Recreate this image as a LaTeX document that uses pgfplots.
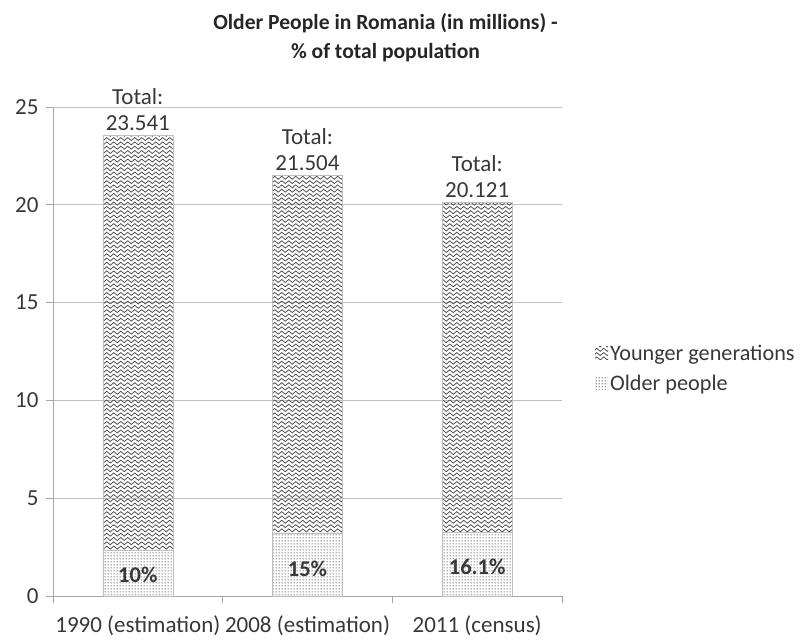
\documentclass[border=0pt]{standalone}
\usepackage{pgfplots}
\pgfplotsset{compat=1.18}
\usepackage{fontspec}
\setmainfont{Carlito}
\usetikzlibrary{patterns}
\definecolor{txt}{HTML}{383838}
\definecolor{gridc}{HTML}{C0C0C0}
\definecolor{axc}{HTML}{A6A6A6}
\pgfdeclarepatternformonly{wave}{\pgfpoint{-0.5pt}{-0.5pt}}{\pgfpoint{7.5pt}{4.8pt}}{\pgfpoint{7pt}{4.3pt}}{
  \pgfsetlinewidth{0.75pt}
  \pgfpathmoveto{\pgfpoint{0pt}{2.1pt}}
  \pgfpathcurveto{\pgfpoint{1.2pt}{4.1pt}}{\pgfpoint{2.3pt}{4.1pt}}{\pgfpoint{3.5pt}{2.1pt}}
  \pgfpathcurveto{\pgfpoint{4.7pt}{0.1pt}}{\pgfpoint{5.8pt}{0.1pt}}{\pgfpoint{7pt}{2.1pt}}
  \pgfusepath{stroke}
}
\pgfdeclarepatternformonly{finedots}{\pgfpointorigin}{\pgfpoint{2.6pt}{2.6pt}}{\pgfpoint{2.6pt}{2.6pt}}{
  \pgfpathcircle{\pgfpoint{1.3pt}{1.3pt}}{0.68pt}
  \pgfusepath{fill}
}
\pgfplotstableread{
x older younger
0 2.354 21.187
1 3.226 18.278
2 3.239 16.882
}\data
\begin{document}
\begin{tikzpicture}
\path[use as bounding box] (-53pt,-44pt) rectangle (749pt,596pt);
\begin{axis}[
  at={(0pt,0pt)}, anchor=south west,
  scale only axis, width=509pt, height=489pt,
  clip=false,
  ybar stacked, bar width=70pt,
  xmin=-0.5, xmax=2.5, ymin=0, ymax=25,
  ytick={0,5,...,25},
  xtick={-0.5,0.5,1.5,2.5},
  x tick label as interval,
  xticklabels={1990 (estimation),2008 (estimation),2011 (census)},
  ymajorgrids, grid style={gridc, line width=0.8pt},
  axis line style={axc, line width=0.8pt},
  axis x line*=bottom, axis y line*=left,
  tick style={axc, line width=0.8pt},
  tick align=outside, major tick length=7pt,
  ticklabel style={font=\fontsize{23}{26}\selectfont, text=txt},
  /pgf/number format/assume math mode=true,
  x tick label style={yshift=-9pt},
  y tick label style={xshift=-4pt},
  title={\textbf{Older People in Romania (in millions) -}\\\textbf{\% of total population}},
  title style={font=\fontsize{21.6}{29}\selectfont, text=black!85, align=center, yshift=36pt, xshift=78pt},
  legend style={at={(1.0,0.465)}, anchor=west, draw=none, fill=none, font=\fontsize{22.2}{26}\selectfont, text=txt, row sep=9pt, xshift=33pt, inner xsep=0pt},
  legend cell align=left,
  reverse legend,
  legend image code/.code={\path[#1, draw=none] (0pt,-6pt) rectangle (13pt,7pt);},
]
\addplot[draw=gray!50, line width=0.4pt, pattern=finedots, pattern color=black!78] table[x=x,y=older]{\data};
\addlegendentry{Older people}
\addplot[draw=gray!50, line width=0.4pt, pattern=wave, pattern color=black!70] table[x=x,y=younger]{\data};
\addlegendentry{Younger generations}
\node[align=center, anchor=south, font=\fontsize{23}{26}\selectfont, text=txt, inner sep=5pt] at (axis cs:0,23.541) {Total:\\23.541};
\node[align=center, anchor=south, font=\fontsize{23}{26}\selectfont, text=txt, inner sep=5pt] at (axis cs:1,21.504) {Total:\\21.504};
\node[align=center, anchor=south, font=\fontsize{23}{26}\selectfont, text=txt, inner sep=5pt] at (axis cs:2,20.121) {Total:\\20.121};
\node[font=\bfseries\fontsize{22.5}{24}\selectfont, text=txt] at (axis cs:0,1.07) {10\%};
\node[font=\bfseries\fontsize{22.5}{24}\selectfont, text=txt] at (axis cs:1,1.38) {15\%};
\node[font=\bfseries\fontsize{22.5}{24}\selectfont, text=txt] at (axis cs:2,1.48) {16.1\%};
\end{axis}
\end{tikzpicture}
\end{document}
